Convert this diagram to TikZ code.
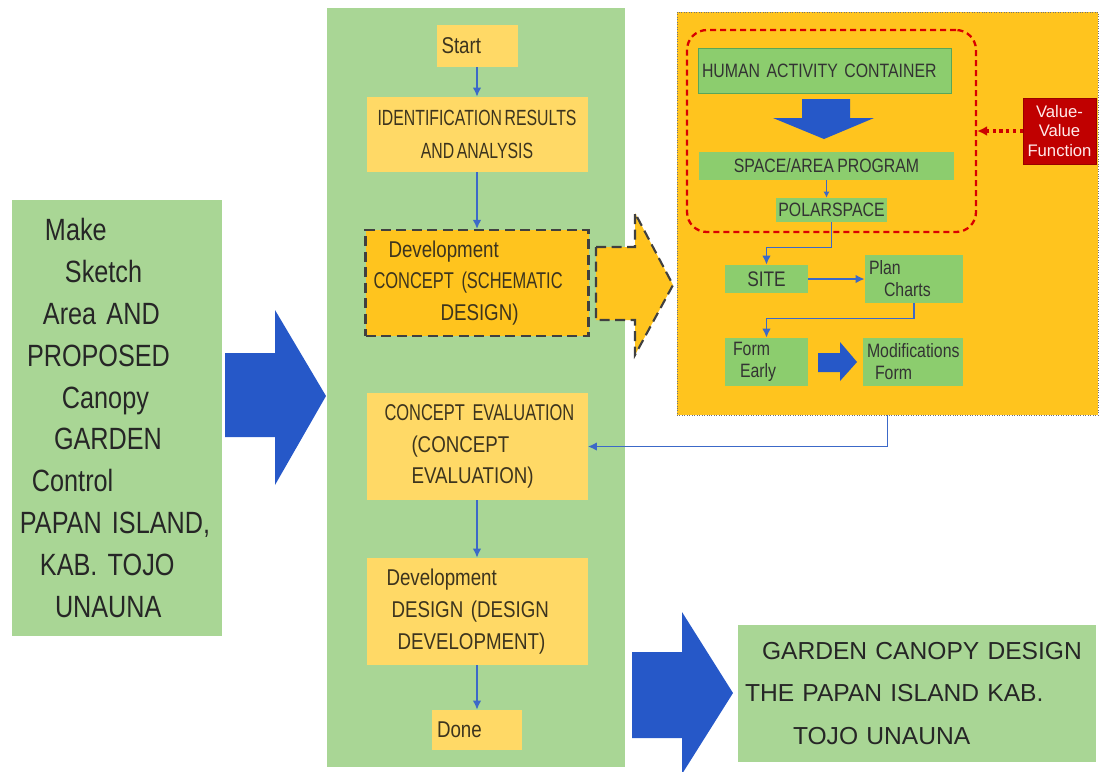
\documentclass[tikz,border=0pt]{standalone}
\usepackage{fontspec}
\setmainfont{Liberation Sans}
\newfontfamily\tightfont[FakeStretch=0.82,WordSpace=0.75]{Liberation Sans}
\newfontfamily\narrowfont[FakeStretch=0.72,WordSpace=0.6]{Liberation Sans}
\usepackage{xcolor}
\usetikzlibrary{arrows.meta,positioning}
\hyphenpenalty=10000
\definecolor{leafgreen}{RGB}{169,214,149}
\definecolor{boxgreen}{RGB}{140,205,110}
\definecolor{paleyellow}{RGB}{255,217,102}
\definecolor{panelgold}{RGB}{255,196,30}
\definecolor{royalblue}{RGB}{38,88,200}
\definecolor{lineblue}{RGB}{60,105,200}
\definecolor{darkred}{RGB}{192,0,0}
\definecolor{olive}{RGB}{60,52,30}
\tikzset{
  stagebox/.style={fill=paleyellow,inner ysep=0pt,inner xsep=1mm,text=olive,
                   font=\tightfont\fontsize{13}{18}\selectfont},
  widestage/.style={stagebox,minimum width=44.2mm,minimum height=21.4mm,
                    text width=42.2mm,align=left},
  greenbox/.style={fill=boxgreen,inner ysep=0pt,inner xsep=0.8mm,align=center,
                   text=black!80,font=\tightfont\fontsize{11}{12.5}\selectfont},
  flow/.style={-{Latex[length=1.8mm,width=1.7mm]},line width=0.9pt,draw=lineblue},
  bigarrow/.style={fill=royalblue},
  dashline/.style={draw=black!75,line width=1.2pt,dash pattern=on 2mm off 1.1mm}
}

\begin{document}
\begin{tikzpicture}[x=0.2mm,y=-0.2mm]
  \useasboundingbox (0,0) rectangle (1100,771);

  % input
  \node[fill=leafgreen,minimum width=42mm,minimum height=87.2mm,inner xsep=1.6mm,
        text width=38.8mm,align=left,text=black!85,
        font=\tightfont\fontsize{17.5}{23.8}\selectfont] (sketch) at (117,418)
    {\hspace*{5mm}Make\\\hspace*{9mm}Sketch\\\hspace*{4.6mm}Area AND\\
     \hspace*{1.4mm}PROPOSED\\\hspace*{8.4mm}Canopy\\\hspace*{6.8mm}GARDEN\\
     \hspace*{2.4mm}Control\\PAPAN ISLAND,\\\hspace*{4mm}KAB. TOJO\\\hspace*{7mm}UNAUNA};
  \fill[bigarrow] (225,353) -- (275,353) -- (275,310) -- (326,396) -- (275,485)
    -- (275,437) -- (225,437) -- cycle;

  % process column
  \fill[leafgreen] (327,8) rectangle (625,767);
  \node[stagebox,minimum width=16.2mm,minimum height=8.4mm,text width=14.2mm,
        align=left] (start) at (477,46) {Start};
  \node[stagebox,minimum width=44.2mm,minimum height=15mm,align=center,
        font=\narrowfont\fontsize{12.5}{18.7}\selectfont] (ident) at (477,134.5)
    {IDENTIFICATION RESULTS\\AND ANALYSIS};
  \node[widestage,dashline,fill=panelgold,minimum width=44.6mm,minimum height=21.2mm,
        text width=42.6mm] (dev) at (477,283)
    {\hspace*{3.6mm}Development\\\hspace*{0.6mm}{\narrowfont CONCEPT (SCHEMATIC}\\
     \hspace*{14mm}DESIGN)};
  \node[widestage] (eval) at (477,446.5)
    {\hspace*{2.6mm}{\narrowfont CONCEPT EVALUATION}\\\hspace*{8mm}(CONCEPT\\
     \hspace*{8mm}EVALUATION)};
  \node[widestage] (design) at (477,611.5)
    {\hspace*{3mm}Development\\\hspace*{4mm}DESIGN (DESIGN\\\hspace*{5.2mm}DEVELOPMENT)};
  \node[stagebox,minimum width=18mm,minimum height=8mm,text width=16mm,
        align=left] (done) at (477,730) {Done};
  \draw[flow] (start) -- (ident);
  \draw[flow] (ident) -- (dev);
  \draw[flow] (eval) -- (design);
  \draw[flow] (design) -- (done);

  % schematic design detail
  \filldraw[dashline,fill=panelgold] (596,247) -- (635,247) -- (635,213) -- (673,285)
    -- (635,355) -- (635,320) -- (596,320) -- cycle;
  \node[fill=panelgold,draw=black!55,densely dotted,minimum width=84.2mm,
        minimum height=80.6mm] (lab) at (887.5,213.5) {};
  \node[draw=red!85!black,line width=1.3pt,dash pattern=on 1.2mm off 0.8mm,
        rounded corners=4mm,minimum width=57.8mm,minimum height=40.4mm] (prog)
    at (831.5,131) {};
  \node[greenbox,draw=gray!70!green,minimum width=50.6mm,minimum height=9mm,
        text width=49mm,align=left] (hac) at (824.5,70.5) {HUMAN ACTIVITY CONTAINER};
  \fill[bigarrow] (802,99) -- (850,99) -- (850,118) -- (874,118) -- (824,139)
    -- (773,118) -- (802,118) -- cycle;
  \node[greenbox,minimum width=51mm,minimum height=5.6mm] (space) at (826.5,166)
    {SPACE/AREA PROGRAM};
  \node[greenbox,minimum width=22.2mm,minimum height=4.8mm,inner xsep=0pt] (polar)
    at (831.5,210) {POLARSPACE};
  \node[greenbox,minimum width=16.6mm,minimum height=5.6mm,
        font=\tightfont\fontsize{12}{13}\selectfont] (site) at (766.5,279) {SITE};
  \node[greenbox,minimum width=19.6mm,minimum height=9.6mm,text width=18mm,
        align=left] (plan) at (914,279) {Plan\\\hspace*{3mm}Charts};
  \node[greenbox,minimum width=16.6mm,minimum height=9.6mm,text width=15mm,
        align=left] (form) at (766.5,362) {\hspace*{0.8mm}Form\\\hspace*{2.2mm}Early};
  \node[greenbox,minimum width=20mm,minimum height=9.6mm,text width=18.4mm,
        align=left] (mods) at (913,362) {Modifications\\\hspace*{1.6mm}Form};
  \fill[bigarrow] (818,353) -- (840,353) -- (840,342) -- (857,362) -- (840,381)
    -- (840,372) -- (818,372) -- cycle;
  \draw[flow,line width=0.6pt,-{Latex[length=1.2mm,width=1.2mm]}]
    (space.south) -- (space.south |- polar.north);
  \draw[flow] (polar.south) -- ++(0,25) -| (site.north);
  \draw[flow] (site) -- (plan);
  \draw[flow] (plan.south) -- ++(0,15) -| (form.north);
  \node[fill=darkred,draw=red!60!black,text=red!8,minimum width=14.6mm,
        minimum height=13.2mm,inner sep=0pt,align=center,
        font=\fontsize{9.5}{11}\selectfont] (val) at (1059.5,131)
    {Value-\\Value\\Function};
  \draw[red!80!black,line width=1.8pt,dotted,-{Latex[length=2mm,width=2mm]}]
    (val) -- (prog);
  \draw[flow] (lab.south) |- (eval.east);

  % output
  \fill[bigarrow] (632,652) -- (682,652) -- (682,612) -- (733,693) -- (682,774)
    -- (682,738) -- (632,738) -- cycle;
  \node[fill=leafgreen,minimum width=71.6mm,minimum height=27.4mm,inner xsep=0pt,
        text width=71.6mm,align=left,text=black!85,
        font=\fontsize{14}{24.4}\selectfont] (goal) at (917,693.5)
    {\hspace*{4.8mm}GARDEN CANOPY DESIGN\\\hspace*{1.4mm}THE PAPAN ISLAND KAB.\\
     \hspace*{11mm}TOJO UNAUNA};
\end{tikzpicture}
\end{document}
